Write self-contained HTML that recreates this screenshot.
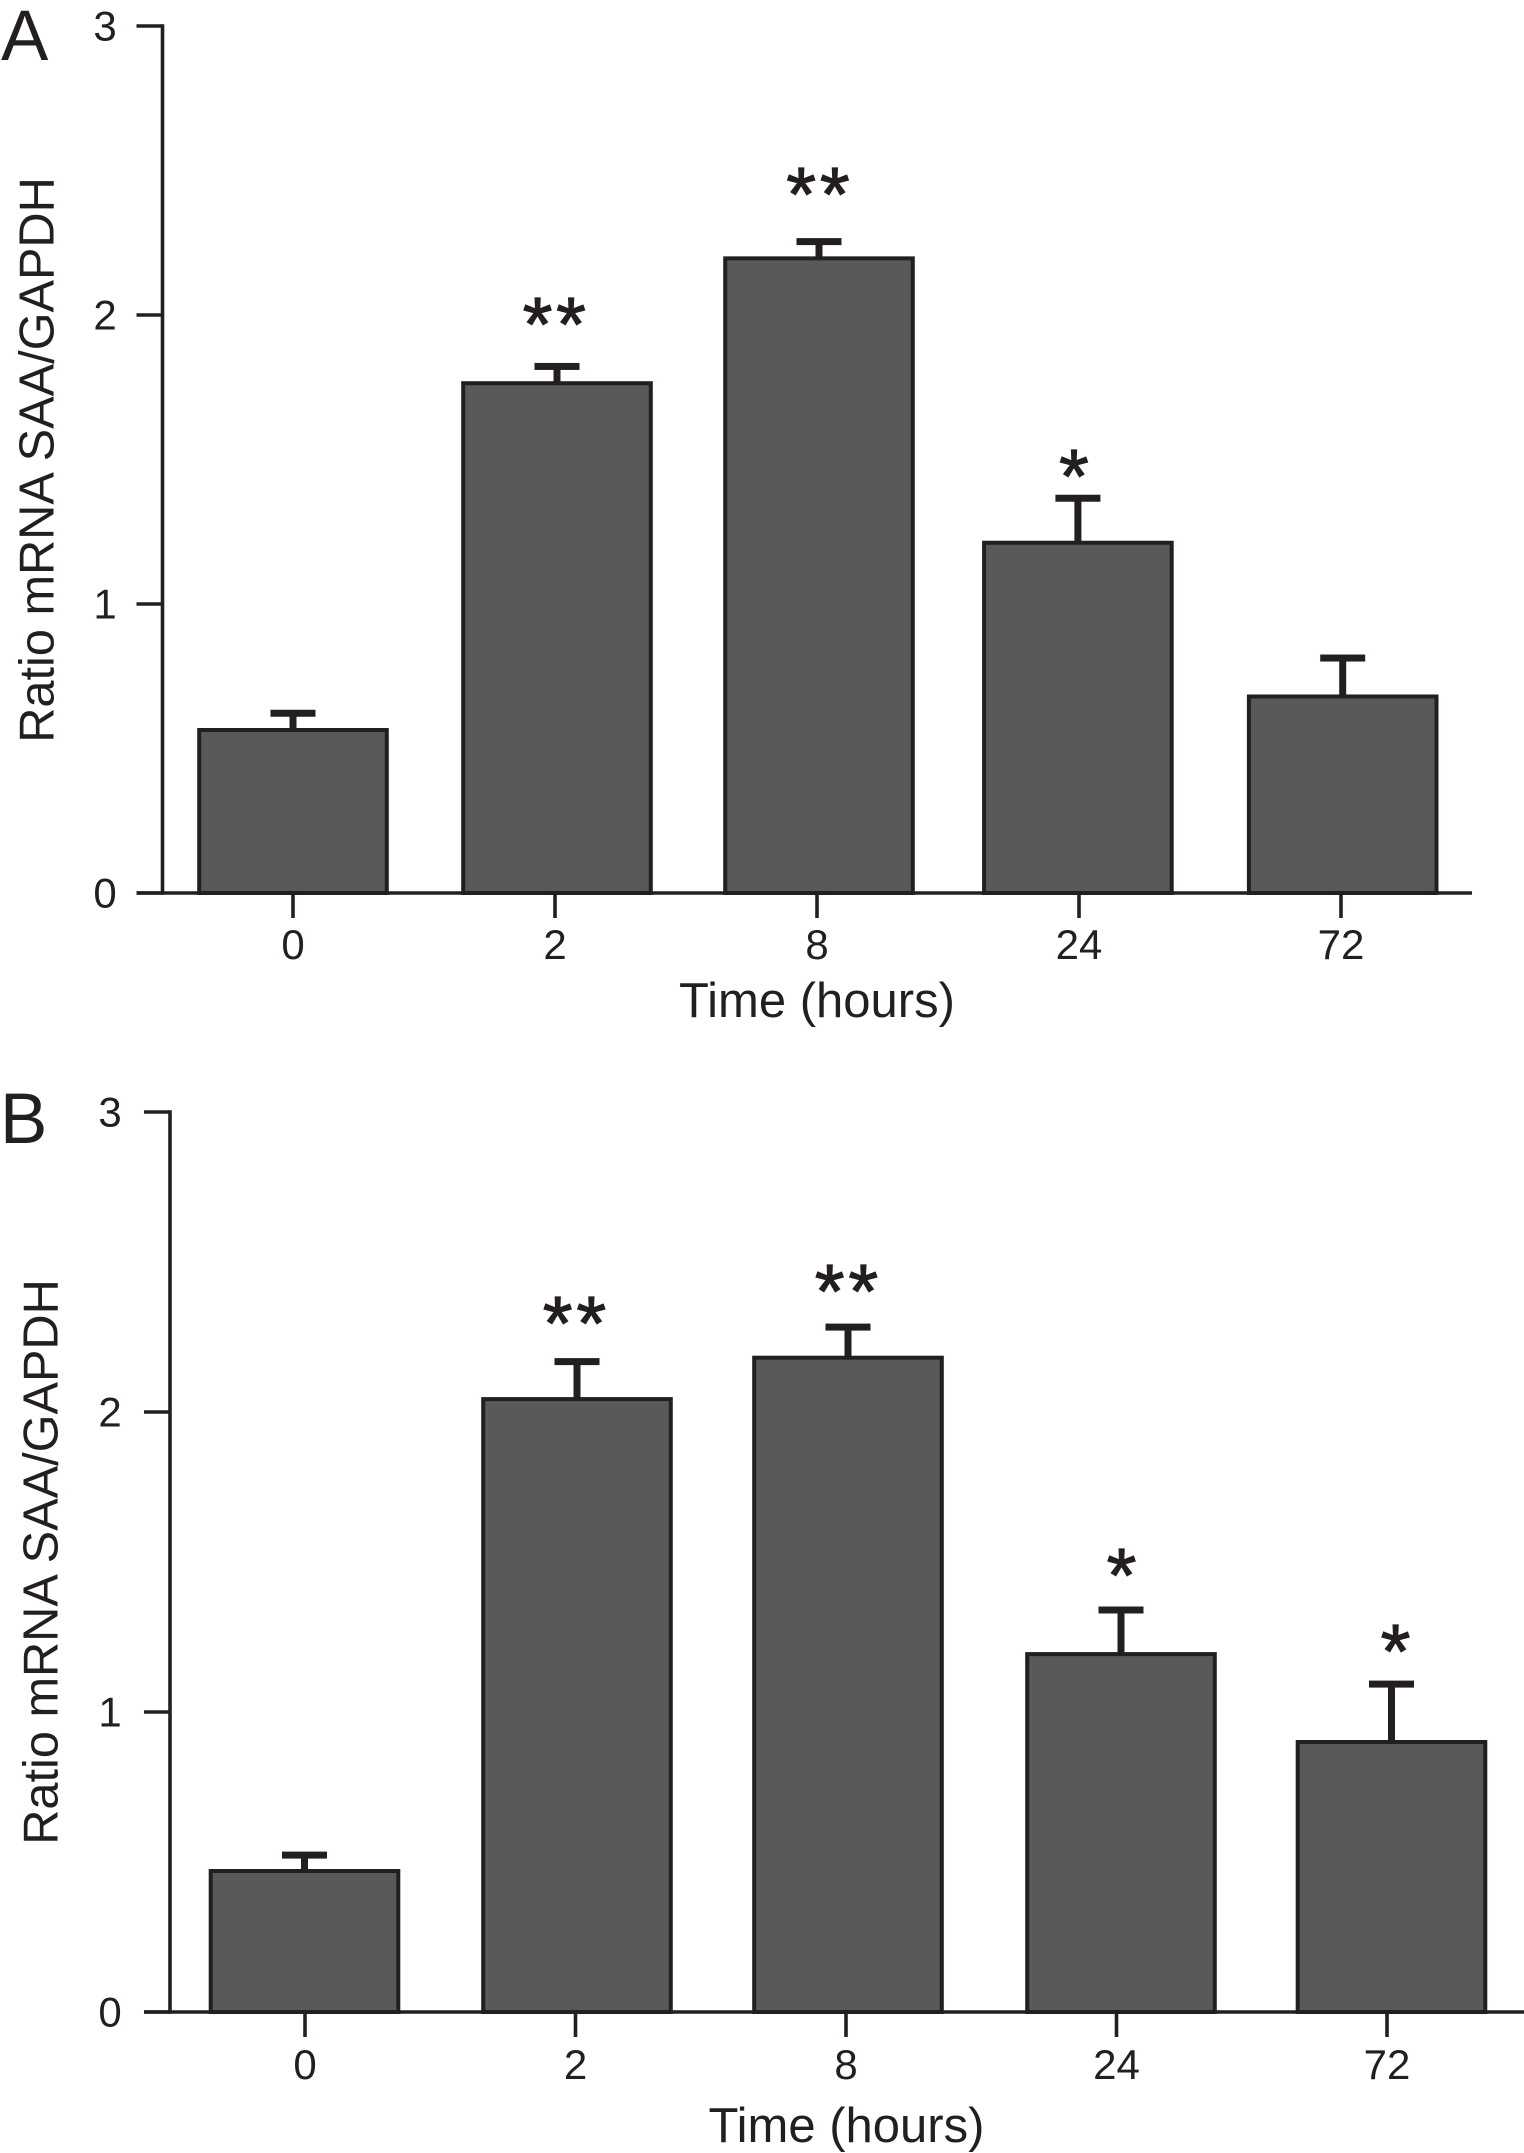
<!DOCTYPE html>
<html lang="en">
<head>
<meta charset="utf-8">
<title>Ratio mRNA SAA/GAPDH over time</title>
<style>
  html, body { margin: 0; padding: 0; background: #ffffff; }
  svg { display: block; }
  text { font-family: "Liberation Sans", Arial, sans-serif; fill: #231f20; }
</style>
</head>
<body>
<svg id="figure" xmlns="http://www.w3.org/2000/svg" width="1524" height="2153" viewBox="0 0 1524 2153">
  <rect x="0" y="0" width="1524" height="2153" fill="#ffffff"/>
  <g id="panel-a">
    <text x="1" y="60" font-size="71">A</text>
    <text transform="translate(53.5 460) rotate(-90)" text-anchor="middle" font-size="48.7">Ratio mRNA SAA/GAPDH</text>
    <text x="817" y="1017" text-anchor="middle" font-size="49">Time (hours)</text>
  </g>
  <g id="panel-b">
    <text x="0" y="1143" font-size="71">B</text>
    <text transform="translate(57.5 1562) rotate(-90)" text-anchor="middle" font-size="48.7">Ratio mRNA SAA/GAPDH</text>
    <text x="846.5" y="2142" text-anchor="middle" font-size="49">Time (hours)</text>
  </g>
</svg>
<script>
// Chart data
const categories = ["0", "2", "8", "24", "72"];
const yTickValues = [0, 1, 2, 3];
const panelAValues = [0.564, 1.764, 2.196, 1.212, 0.68];
const panelAErrors = [0.058, 0.058, 0.058, 0.154, 0.133];
const panelAStars = ["", "**", "**", "*", ""];
const panelAStarLift = [0, 0.146, 0.164, 0.077, 0];
const panelBValues = [0.47, 2.043, 2.181, 1.193, 0.9];
const panelBErrors = [0.053, 0.125, 0.102, 0.147, 0.193];
const panelBStars = ["", "**", "**", "*", "*"];
const panelBStarLift = [0, 0.129, 0.12, 0.117, 0.11];

const SVG_NS = "http://www.w3.org/2000/svg";
const INK = "#231f20";
const FILL = "#58595b";

function make(tag, attrs, parent) {
  const el = document.createElementNS(SVG_NS, tag);
  Object.keys(attrs).forEach(function (k) { el.setAttribute(k, attrs[k]); });
  parent.appendChild(el);
  return el;
}

function drawPanel(parent, layout, values, errors, stars, starLift) {
  const y = function (v) { return layout.y0 - v * layout.unit; };
  const tickX = function (i) { return layout.tickStart + i * layout.tickStep; };
  const barX = function (i) { return layout.barStart + i * layout.barStep + layout.barNudge[i]; };
  const yMax = yTickValues[yTickValues.length - 1];

  // Bars and error bars
  categories.forEach(function (cat, i) {
    const cx = barX(i);
    const top = y(values[i]);
    const capY = y(values[i] + errors[i]);

    const stem = make("rect", { x: cx - 3.5, y: capY, width: 7, height: top - capY, fill: INK }, parent);
    
    

    const cap = make("rect", { x: cx - 22.5, y: capY - 3.5, width: 45, height: 7, fill: INK }, parent);
    
    

    const bar = make("rect", { x: cx - 93.8, y: top, width: 187.6, height: layout.y0 - top, fill: FILL, stroke: INK, "stroke-width": 4 }, parent);
    
    

    if (stars[i]) {
      const inkBottom = capY - starLift[i] * layout.unit;
      const star = make("text", { x: cx + layout.starShift[i] + 2, y: inkBottom + 26.5, "text-anchor": "middle", "font-size": 76, "letter-spacing": 4, stroke: INK, "stroke-width": 1.2 }, parent);
      star.textContent = stars[i];
      
      
    }
  });

  // Y axis line
  const yAxis = make("line", { x1: layout.axisX, x2: layout.axisX, y1: y(yMax) - 1.8, y2: layout.y0 + 1.8, stroke: INK, "stroke-width": 3.6 }, parent);
  
  

  // X axis line
  const xAxis = make("line", { x1: layout.axisX - 26, x2: layout.axisEnd, y1: layout.y0, y2: layout.y0, stroke: INK, "stroke-width": 3.6 }, parent);
  
  

  // Y ticks
  yTickValues.forEach(function (v) {
    const tick = make("line", { x1: layout.axisX - 26, x2: layout.axisX, y1: y(v), y2: y(v), stroke: INK, "stroke-width": 3.6 }, parent);
    
    

    const label = make("text", { x: layout.yLabelX, y: y(v) + 14.5, "text-anchor": "middle", "font-size": 42 }, parent);
    label.textContent = String(v);
    
    
  });

  // X ticks
  categories.forEach(function (cat, i) {
    const tick = make("line", { x1: tickX(i), x2: tickX(i), y1: layout.y0, y2: layout.y0 + 25, stroke: INK, "stroke-width": 3.6 }, parent);
    
    

    const label = make("text", { x: tickX(i), y: layout.xLabelY, "text-anchor": "middle", "font-size": 42 }, parent);
    label.textContent = cat;
    
    
  });
}

drawPanel(document.getElementById("panel-a"), {
  y0: 893, unit: 289, axisX: 162.5, axisEnd: 1472,
  tickStart: 293, tickStep: 262, barStart: 293, barStep: 262.3,
  barNudge: [0, 1.7, 1.4, -2, 0.5],
  yLabelX: 105, xLabelY: 959, starShift: [0, -2.7, -1, -4, 0]
}, panelAValues, panelAErrors, panelAStars, panelAStarLift);

drawPanel(document.getElementById("panel-b"), {
  y0: 2012, unit: 300, axisX: 170, axisEnd: 1524,
  tickStart: 305, tickStep: 270.5, barStart: 304.5, barStep: 272,
  barNudge: [0, 0.5, -0.5, 0.5, -1],
  yLabelX: 110, xLabelY: 2079, starShift: [0, -2.5, -1.5, 0.5, 4]
}, panelBValues, panelBErrors, panelBStars, panelBStarLift);
</script>
</body>
</html>
